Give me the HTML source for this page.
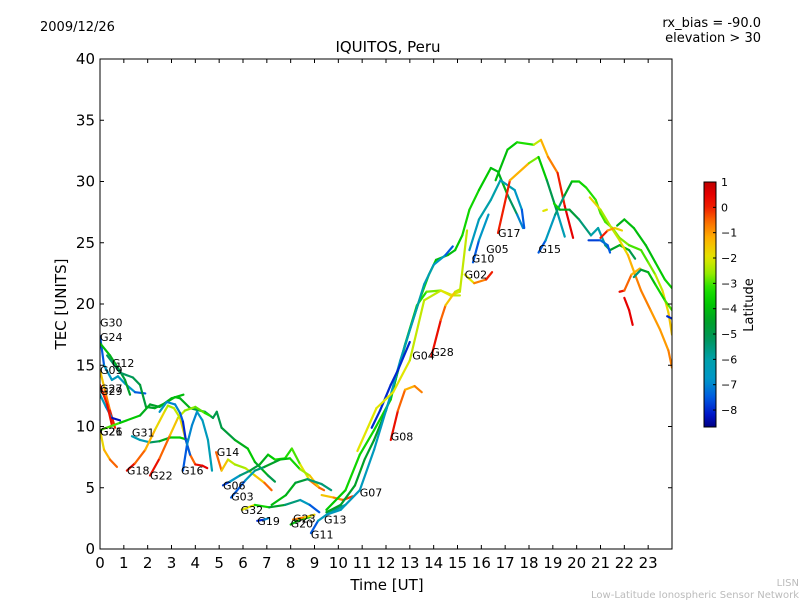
<!DOCTYPE html>
<html><head><meta charset="utf-8"><style>
body{margin:0;background:#fff;}
svg{display:block;font-family:"DejaVu Sans","Liberation Sans",sans-serif;}
</style></head><body>
<svg id="chart" width="800" height="600" viewBox="0 0 800 600" xmlns="http://www.w3.org/2000/svg">
<rect width="800" height="600" fill="#fff"/>
<text x="40" y="31" font-size="13">2009/12/26</text>
<text x="761" y="27" font-size="13" text-anchor="end">rx_bias = -90.0</text>
<text x="761" y="42" font-size="13" text-anchor="end">elevation &gt; 30</text>
<text x="388" y="52" font-size="15" text-anchor="middle">IQUITOS, Peru</text>
<text x="387" y="590" font-size="15" text-anchor="middle">Time [UT]</text>
<text x="66" y="304" font-size="15" text-anchor="middle" transform="rotate(-90 66 304)">TEC [UNITS]</text>
<text x="799" y="586" font-size="10" fill="#bbb" text-anchor="end">LISN</text>
<text x="799" y="598" font-size="10" fill="#bbb" text-anchor="end">Low-Latitude Ionospheric Sensor Network</text>
<g id="plot"></g>
<g id="axes"></g>
<g id="cbar"></g>
</svg>
<script>
// Data: each series is [time(h), TEC, latitude] triples
const xTicks = [0,1,2,3,4,5,6,7,8,9,10,11,12,13,14,15,16,17,18,19,20,21,22,23];
const yTicks = [0,5,10,15,20,25,30,35,40];
const cbarTicks = [1,0,-1,-2,-3,-4,-5,-6,-7,-8];
const series = [
 [[0,17.4,-8],[0.17,15,-7],[0.5,13.8,-6.5],[0.75,14.1,-6.5],[1.05,13.5,-6.5],[1.47,12.8,-7],[1.9,12.7,-8]],
 [[0,16.8,-4],[0.42,15.8,-4],[0.75,14.8,-4.5],[1.05,13.8,-5],[1.26,12.6,-4]],
 [[0.3,15.8,-5],[0.84,14.4,-5.5],[1.38,14,-5],[1.68,13.4,-5],[1.93,11.6,-4.5],[2.3,11.5,-4.5],[2.73,11.9,-4],[3.15,12.4,-4],[3.36,12.3,-4],[3.78,11.5,-4.5],[4.4,11.2,-5],[4.74,10.7,-5],[4.9,11.2,-5],[5.1,9.9,-5],[5.66,8.9,-4.5],[6.2,8.2,-4],[6.5,7.1,-3.5],[7.05,6,-5],[7.34,5.5,-5]],
 [[0,14.6,-2],[0.2,13,-1],[0.42,11.3,-0.5],[0.63,9.9,0.5]],
 [[0,12.6,-7],[0.25,11.6,-6],[0.5,10.7,-8],[0.84,10.5,-8.5]],
 [[0,13.4,0],[0.3,11.8,0],[0.5,10.1,0.5]],
 [[0,9.7,-2],[0.17,8.1,-1.5],[0.42,7.3,-1],[0.71,6.7,0]],
 [[0,9.7,-2.5],[0.84,10.3,-3.5],[1.68,10.9,-4],[2.1,11.8,-4.5],[2.5,11.6,-4.5],[3,12.3,-4],[3.5,12.6,-4]],
 [[1.34,9.2,-6],[1.68,8.9,-6.5],[2.1,8.7,-6],[2.5,8.8,-4.5],[2.94,9.1,-4],[3.36,9.1,-3.5],[3.7,8.9,-4]],
 [[1.13,6.4,0.5],[1.47,7,0],[1.9,8.1,-1],[2.3,9.7,-1.5],[2.73,11.3,-2],[2.85,11.7,-2.5],[3.1,11.5,-2.5],[3.36,10.7,-2],[3.6,8.9,-1.5],[3.78,7.7,-1],[4,6.9,0],[4.3,6.8,0.5],[4.5,6.6,0.5]],
 [[2.1,6,0.5],[2.5,7.4,0],[2.94,9.3,-1],[3.27,10.7,-2],[3.56,11.3,-2.5],[4,11.6,-2.8],[4.4,11.1,-3],[4.6,10.9,-3.5]],
 [[2.5,11.2,-6.5],[2.8,12,-7],[3.15,11.8,-7],[3.36,11.1,-7],[3.48,10.4,-8],[3.6,8.9,-8],[3.78,7.7,-7]],
 [[3.48,6.4,-8],[3.65,8.5,-7],[3.86,10.1,-7],[4.07,11.2,-7],[4.3,10.5,-6.5],[4.53,8.9,-6.5],[4.7,6.4,-6]],
 [[4.87,7.9,0],[5.1,6.4,-1],[5.37,7.3,-2],[5.66,6.9,-2.5],[6.1,6.6,-2.5],[6.5,6,-2],[6.9,5.4,-1],[7.2,4.8,0]],
 [[5.16,5.2,-8],[5.45,5.5,-7.5],[5.87,6,-6],[6.3,6.4,-5],[6.7,6.9,-4.5],[7.05,7.7,-4],[7.34,7.3,-3.5],[7.76,7.4,-3],[8.05,8.2,-3.5],[8.4,6.9,-2.5],[8.8,5.6,-1.5],[9.2,5,0]],
 [[5.5,4.2,-8],[6.1,5.6,-7],[6.5,6.4,-6],[6.9,6.7,-5],[7.55,7.3,-4],[7.97,7.4,-4],[8.4,6.5,-3],[8.8,6,-2],[9.2,5,-1],[9.4,4.8,0]],
 [[5.95,3.2,-1],[6.5,3.6,-3],[7.1,3.4,-4],[7.76,3.6,-5],[8.4,4,-6],[8.8,3.6,-7],[9.2,3,-8]],
 [[6.6,2.3,-8],[6.9,2.4,-8],[7.05,2.5,-6]],
 [[8,2,-4],[8.4,2.4,-4],[8.8,2.6,-3.5]],
 [[8.1,2.4,0],[8.6,2.6,-1.5],[9,2.8,-2]],
 [[8.85,1.3,-8],[9.15,2.3,-7],[9.65,3,-6],[10.3,3.6,-5.5]],
 [[7.2,3.6,-4],[7.8,4.4,-4],[8.2,5.4,-4.5],[8.7,5.7,-5],[9.3,5.3,-6],[9.7,4.8,-5]],
 [[9.3,4.4,-2],[9.8,4.2,-1],[10.2,4,-0.5],[10.6,4.3,0]],
 [[9.5,3.2,-4],[10.3,4.8,-3.5],[10.9,7.7,-3.5],[11.5,9.7,-3.5],[12.2,12.2,-3.5],[12.5,14.6,-3.5],[13,17.9,-3.5],[13.4,20.3,-3.5],[13.8,22.4,-3.5],[14.1,23.6,-4],[14.6,24,-4],[14.9,24.4,-4],[15.2,25.6,-3.5],[15.5,27.7,-3.5],[15.9,29.3,-3.5],[16.4,31.1,-4],[16.7,30.8,-4],[17.1,28.9,-4.5],[17.5,27.3,-6],[17.75,26.2,-8]],
 [[9.5,3,-4.5],[10.1,3.6,-4.5],[10.7,5.2,-4.5],[11.1,7.3,-4.5],[11.5,8.9,-4.5],[12,11.3,-4.5],[12.4,13.8,-4.5],[12.8,16.7,-4],[13.3,19.9,-3.5],[13.7,21,-3],[14.3,21.1,-2.5],[14.8,20.7,-2],[15.1,20.7,-2.5]],
 [[9.5,2.8,-6.5],[10.1,3.2,-6.5],[10.9,4.8,-6.5],[11.5,8.1,-6.5],[12.2,12.6,-6.5],[12.6,15.4,-6.5],[13.2,19.1,-6],[13.6,21.6,-6],[14,23.2,-6.5],[14.5,24,-7],[14.8,24.7,-8]],
 [[15.5,24.4,-7],[15.9,26.9,-6],[16.4,28.5,-6],[16.8,30.1,-6],[17.4,29.3,-6.5],[17.7,27.7,-7],[17.8,26.2,-8]],
 [[15.65,23.4,-8],[15.9,25.2,-7],[16.3,27.3,-6.5]],
 [[11.4,9.9,-8],[11.75,11.3,-8],[12.2,13.4,-8],[12.5,14.6,-8],[13,16.9,-8]],
 [[12.2,8.9,0.5],[12.5,11.3,0],[12.8,13,-1],[13.2,13.3,-1.5],[13.5,12.8,0]],
 [[10.8,8,-2],[11.6,11.5,-2],[12.3,12.8,-2],[13,15.4,-2],[13.6,20.3,-2.5],[14.3,21.1,-2],[14.7,20.7,-2],[15.1,21,-2],[15.4,26,-2.5]],
 [[13.9,15.7,0.5],[14.3,18.7,0],[14.5,19.9,-1],[14.9,21,-2],[15.1,21.2,-2.5]],
 [[15.3,22.4,-3],[15.7,21.7,-1],[16.2,22,-0.5],[16.45,22.6,0.5]],
 [[16.7,25.8,0.5],[17.2,30.1,-0.5],[18,31.5,-2],[18.4,32,-3.5],[18.75,30.1,-4],[19.2,27.4,-6],[19.5,25.5,-6.5]],
 [[16.6,30.1,-4],[17.1,32.6,-4],[17.5,33.2,-3.5],[18.2,33,-3],[18.5,33.4,-1.5],[18.8,32,-1],[19.2,30.7,-0.5],[19.5,28,0.5],[19.85,25.4,0.5]],
 [[18.4,24.2,-8],[18.7,25.2,-7],[19.1,27.3,-6],[19.5,28.9,-5],[19.8,30,-4],[20.1,30,-3.5],[20.4,29.5,-3.5],[20.8,28.5,-3],[21,27.4,-3],[21.2,26.7,-3],[21.5,26.2,-3],[21.8,25.4,-2.5],[22.2,24.8,-3],[22.7,24.4,-3],[23,23.4,-3],[23.3,22.4,-2.5],[23.6,21.1,-2],[23.85,19.3,-1.5],[24,17.5,-1.5]],
 [[19.05,28.2,-3],[19.3,27.7,-4],[19.7,27.7,-4.5],[20.1,26.9,-5],[20.6,25.6,-6],[20.9,26.2,-6],[21.2,24.8,-6],[21.4,24.4,-5],[21.8,24.8,-4],[22.2,24.4,-4],[22.45,23.7,-6]],
 [[20.55,28.7,-1],[21,27.7,-2.5],[21.4,26.4,-2.5],[21.8,25.2,-2],[22.15,24,-1.5],[22.45,22.4,-1],[22.7,21.1,-0.5],[23.1,19.5,-1],[23.5,17.9,-1],[23.85,16.2,-1],[24,14.8,-0.5]],
 [[20.5,25.2,-8],[21,25.2,-7.5],[21.3,24.8,-7],[21.4,24.2,-8]],
 [[21,25.4,0.5],[21.3,26,-0.5],[21.6,26.2,-1.5],[21.9,26,-2]],
 [[21.8,21,0.5],[22,21.1,0],[22.3,22.4,-1],[22.65,22.9,-1.5]],
 [[22,20.5,0.5],[22.2,19.5,0.5],[22.35,18.3,0.5]],
 [[22.4,22.2,-6],[22.7,22.8,-5],[23,22.6,-4],[23.3,21.6,-4],[23.7,20.3,-3],[24,19.5,-3]],
 [[21.7,26.4,-4.5],[22,26.9,-4],[22.4,26.2,-4],[22.9,24.8,-4],[23.3,23.4,-4],[23.7,22,-3.5],[24,21.3,-3.5]],
 [[23.8,19,-8],[24,18.8,-8]],
 [[18.6,27.6,-2],[18.75,27.7,-2]]
];
const labelNames = ["G30","G24","G12","G09","G27","G29","G26","G21","G31","G18","G22","G16","G14","G06","G03","G32","G19","G23","G20","G13","G11","G07","G08","G04","G28","G02","G10","G05","G17","G15"];
const labelT = [0,0,0.5,0,0,0,0,0,1.34,1.13,2.1,3.4,4.9,5.16,5.5,5.9,6.6,8.1,8.0,9.4,8.85,10.9,12.2,13.1,13.9,15.3,15.6,16.2,16.7,18.4];
const labelV = [18.5,17.3,15.2,14.6,13.1,12.9,9.6,9.6,9.5,6.4,6,6.4,7.9,5.2,4.3,3.2,2.3,2.5,2.1,2.4,1.2,4.6,9.2,15.8,16.1,22.4,23.7,24.5,25.8,24.5];

const NS="http://www.w3.org/2000/svg";
const X0=100,X1=672,Y0=549,Y1=59;
const xs=t=>X0+t*(X1-X0)/24;
const ys=v=>Y0-v*(Y0-Y1)/40;
const LMIN=-8.67,LMAX=1;
// custom colormap stops (latitude -> rgb)
const CMAP=[[-8.67,[0,0,130]],[-8.2,[0,20,200]],[-7.5,[0,90,225]],[-6.8,[0,150,200]],[-6,[0,160,170]],[-5.2,[0,150,90]],[-4.5,[0,160,40]],[-3.8,[0,200,0]],[-3.2,[30,225,0]],[-2.6,[150,235,0]],[-2,[225,230,0]],[-1.2,[255,175,0]],[-0.5,[250,100,0]],[0,[240,30,0]],[0.5,[230,0,0]],[1,[190,0,0]]];
function jet(lat){
  if(lat<=CMAP[0][0])return `rgb(${CMAP[0][1].join(',')})`;
  for(let i=0;i<CMAP.length-1;i++){
    const a=CMAP[i],b=CMAP[i+1];
    if(lat<=b[0]){const f=(lat-a[0])/(b[0]-a[0]);const c=a[1].map((v,k)=>Math.round(v+(b[1][k]-v)*f));return `rgb(${c.join(',')})`;}
  }
  return `rgb(${CMAP[CMAP.length-1][1].join(',')})`;
}
function mk(tag,attrs,parent){const e=document.createElementNS(NS,tag);for(const k in attrs)e.setAttribute(k,attrs[k]);parent.appendChild(e);return e;}
const plot=document.getElementById('plot');
const axes=document.getElementById('axes');
const cbar=document.getElementById('cbar');
mk('rect',{x:X0,y:Y1,width:X1-X0,height:Y0-Y1,fill:'#fff'},plot);
const clip=mk('clipPath',{id:'pc'},plot);
mk('rect',{x:X0,y:Y1,width:X1-X0,height:Y0-Y1},clip);
const lines=mk('g',{'clip-path':'url(#pc)'},plot);
series.forEach((s,si)=>{
  const g=mk('g',{},lines);
  
  
  for(let i=0;i<s.length-1;i++){
    const a=s[i],b=s[i+1];
    const seg=mk('line',{x1:xs(a[0]),y1:ys(a[1]),x2:xs(b[0]),y2:ys(b[1]),stroke:jet((a[2]+b[2])/2),'stroke-width':2.2,'stroke-linecap':'round'},g);
    
    
  }
});
labelNames.forEach((n,i)=>{
  const t=mk('text',{x:xs(labelT[i]),y:ys(labelV[i])+4,'font-size':11},plot);
  
  
  t.textContent=n;
});
const fr=mk('rect',{x:X0,y:Y1,width:X1-X0,height:Y0-Y1,fill:'none',stroke:'#000','stroke-width':1},axes);


xTicks.forEach(v=>{
  const x=xs(v);
  mk('line',{x1:x,y1:Y0,x2:x,y2:Y0-4,stroke:'#000'},axes);
  mk('line',{x1:x,y1:Y1,x2:x,y2:Y1+4,stroke:'#000'},axes);
  const t=mk('text',{x:x,y:568,'font-size':15,'text-anchor':'middle'},axes);
  
  
  t.textContent=v;
});
yTicks.forEach(v=>{
  const y=ys(v);
  mk('line',{x1:X0,y1:y,x2:X0+4,y2:y,stroke:'#000'},axes);
  mk('line',{x1:X1,y1:y,x2:X1-4,y2:y,stroke:'#000'},axes);
  const t=mk('text',{x:95,y:y+5,'font-size':15,'text-anchor':'end'},axes);
  
  
  t.textContent=v;
});
const CX=704,CW=12,CT=182,CB=427;
const cy=l=>CB-(l-LMIN)/(LMAX-LMIN)*(CB-CT);
const defs=mk('defs',{},cbar);
const grad=mk('linearGradient',{id:'jetg',x1:0,y1:1,x2:0,y2:0},defs);
for(let i=0;i<=40;i++){const f=i/40;mk('stop',{offset:f,'stop-color':jet(LMIN+f*(LMAX-LMIN))},grad);}
const cr=mk('rect',{x:CX,y:CT,width:CW,height:CB-CT,fill:'url(#jetg)',stroke:'#000','stroke-width':1},cbar);


cbarTicks.forEach(v=>{
  const y=cy(v);
  mk('line',{x1:CX+CW-3,y1:y,x2:CX+CW,y2:y,stroke:'#000'},cbar);
  const t=mk('text',{x:721,y:y+4,'font-size':11},cbar);
  
  
  t.textContent=v===0?'0':(v<0?'\u2212'+(-v):v);
});
const cl=mk('text',{x:753,y:305,'font-size':13,'text-anchor':'middle',transform:'rotate(-90 753 305)'},cbar);


cl.textContent='Latitude';
</script>
</body></html>
